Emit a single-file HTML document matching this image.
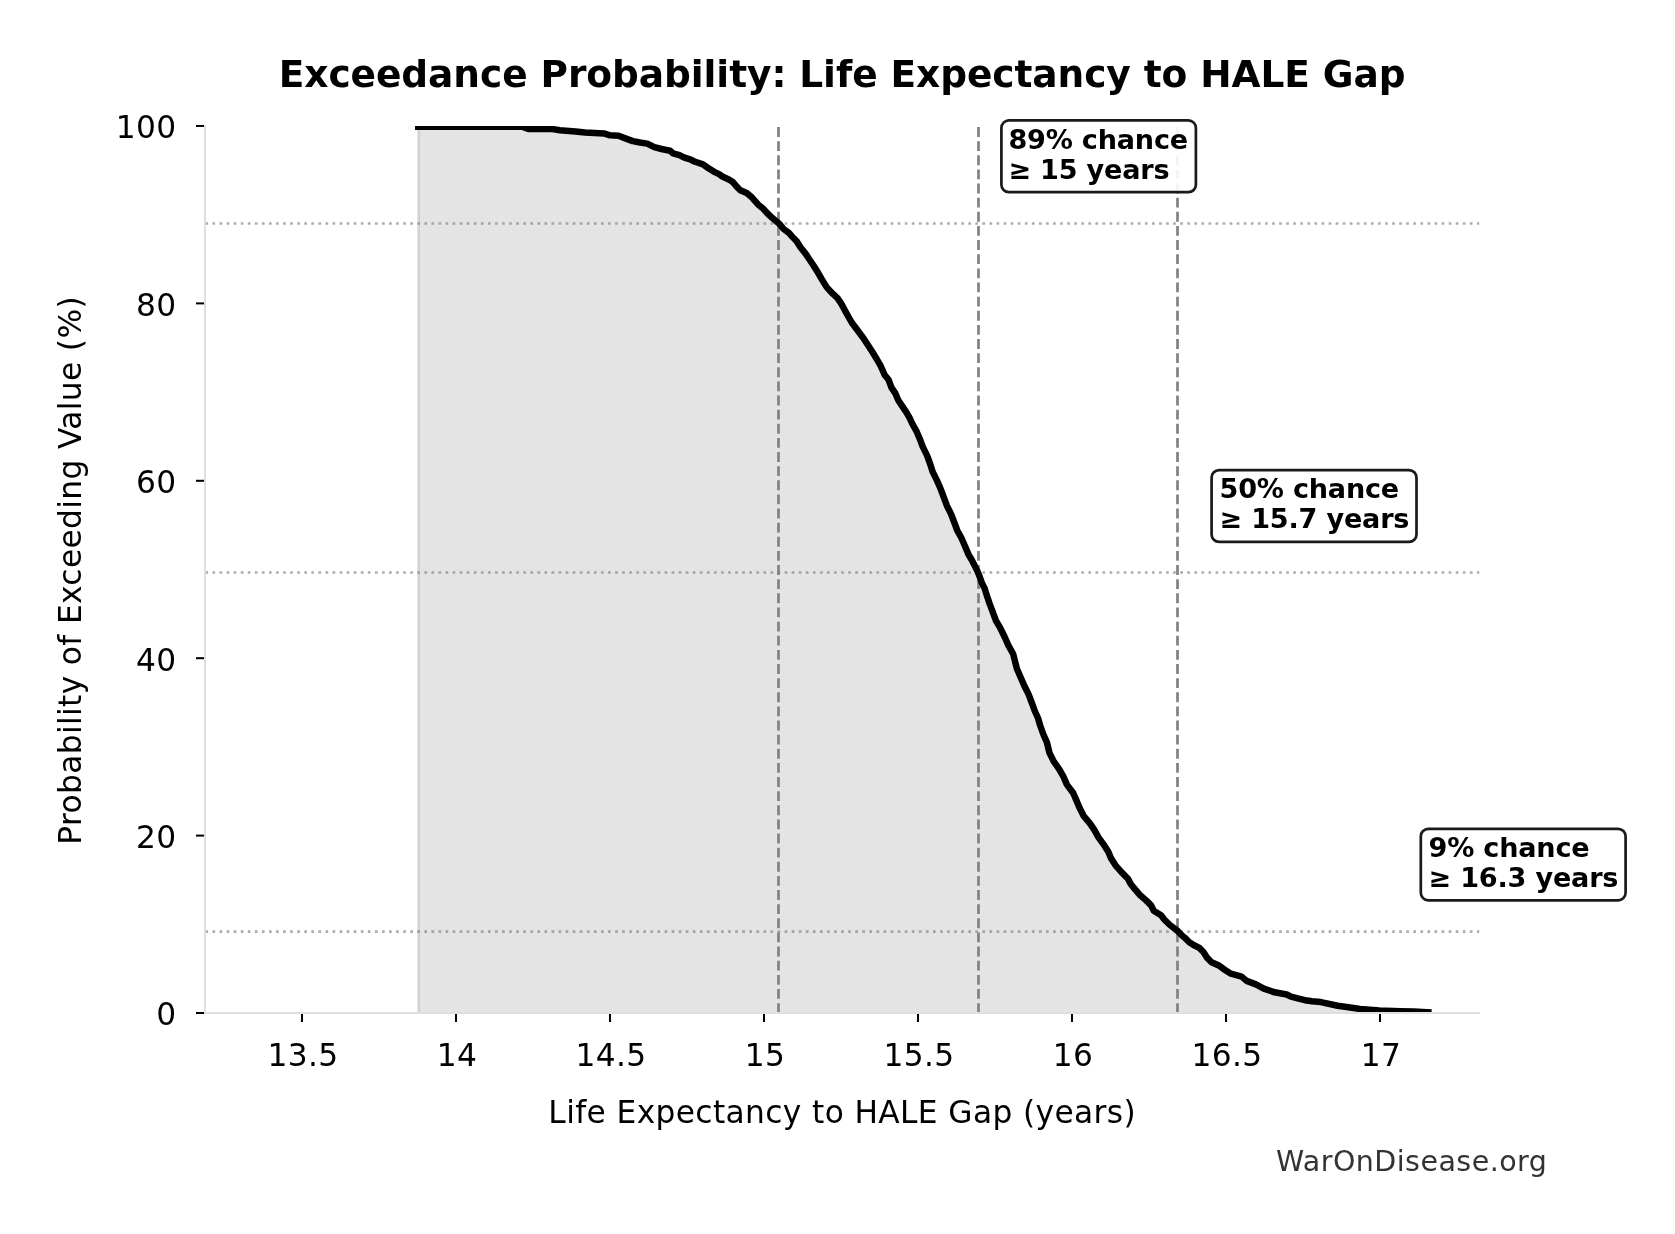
<!DOCTYPE html>
<html><head><meta charset="utf-8"><title>Exceedance Probability: Life Expectancy to HALE Gap</title>
<style>html,body{margin:0;padding:0;background:#fff;width:1675px;height:1234px;overflow:hidden}svg{display:block;will-change:transform}</style>
</head><body>
<svg width="1675" height="1234" viewBox="0 0 1675 1234">
<defs><clipPath id="ax"><rect x="205" y="126" width="1274.5" height="886.6"/></clipPath></defs>
<rect x="0" y="0" width="1675" height="1234" fill="#ffffff"/>
<g clip-path="url(#ax)"><polygon points="418.3,126.7 522,126.7 529,129.1 552.6,129.1 560,130.2 575.5,131.5 585,132.5 604,133.4 610,135.3 618.5,135.8 624.7,138.1 632.8,141.1 640,142.5 647.2,143.6 654.3,147.2 661.5,149 670.1,150.8 673,153.3 679.4,155.1 684.4,157.6 690.2,159.4 694.4,161.5 703,164.4 708.1,168 713.8,171.6 719.5,174.4 722.4,176.6 728.8,179.4 733.1,182.3 736.7,186.6 740.3,190.2 746.7,193 751.8,197.3 757.8,204.2 763.6,209.1 768,214 773.3,218.8 779.2,223.7 783.6,229 788.9,232.9 793.3,237.8 796.7,241.2 800.6,247.5 805.4,253.4 809.3,259.2 813.2,265 818.1,272.8 822,279.6 826.8,287.4 832.7,293.7 837.5,298.1 841.4,303.9 847.3,314.7 851.7,322.5 857.5,330.3 863.3,338 867.7,344.8 872.1,351.6 876.4,358.5 880.8,366.2 884.7,375 888.6,379.8 891.5,387.6 895.4,393.4 898.3,400.2 902.2,406.1 906.1,411.9 909.5,417.7 912.1,423.4 916.3,430.8 919.5,438.2 922.7,446.6 926.9,455.1 930,463.5 932.7,471.9 936.9,480.4 940.6,488.8 943.7,497.2 946.9,505.7 951.1,514.1 954.3,522.5 957.5,531 961.1,537.3 964.5,545 968.6,554.6 971.5,559.5 974.5,565.3 977.4,571.1 979.8,577 982.2,583.8 984.7,588.6 987,596 989.5,603.4 992.7,611.9 995.8,620.3 1000.6,628.7 1004.8,637.2 1008.5,645.6 1013.2,654 1015.3,662.5 1016.9,668.8 1020.6,677.2 1024.3,685.7 1028.5,694.1 1031.7,702.5 1034.8,711 1038,718 1040,725 1043.2,734 1046.9,742.4 1049.5,752.9 1053.7,761.4 1059,768.8 1063.7,777.2 1066.9,784.6 1073.2,793 1076.4,800.4 1079.5,807.8 1083.8,816.2 1090.1,823.6 1094.3,829.9 1098.5,837.3 1103.9,844.8 1108.4,851.9 1111,858.2 1115.5,865.3 1121.7,872.4 1128,878.7 1130.7,884 1135.1,889.4 1139.6,894.7 1145.8,900.1 1151.1,905.4 1153.8,910.8 1161,915.2 1164.5,919.7 1169.9,925 1177,930.4 1182.3,935.7 1185,937.9 1189.3,942.2 1193.6,945 1199.3,947.9 1203.6,952.2 1207.2,957.9 1211.5,962.2 1219.4,965.8 1225.1,970.1 1230.9,973.7 1241.6,976.6 1246.6,980.9 1255.9,984.4 1263.8,988.7 1274.6,992.3 1286.7,994.5 1291,996.6 1299.6,998.8 1305,1000.2 1312,1001.3 1320.9,1002.1 1337.6,1005.7 1350.2,1007.5 1360.2,1009 1379.4,1010.4 1400.3,1011.2 1413.7,1011.6 1428.3,1012.4 1428.3,1013 417,1013 417,126.7" fill="#e4e4e4" stroke="none"/>
<line x1="419.2" y1="126.7" x2="419.2" y2="1013.0" stroke="#cbcbcb" stroke-width="1.3"/>
<line x1="205.4" y1="223.5" x2="1479.5" y2="223.5" stroke="#808080" stroke-opacity="0.65" stroke-width="2.666" stroke-dasharray="2.666 4.398"/>
<line x1="205.4" y1="572.5" x2="1479.5" y2="572.5" stroke="#808080" stroke-opacity="0.65" stroke-width="2.666" stroke-dasharray="2.666 4.398"/>
<line x1="205.4" y1="931.7" x2="1479.5" y2="931.7" stroke="#808080" stroke-opacity="0.65" stroke-width="2.666" stroke-dasharray="2.666 4.398"/>
<line x1="778.5" y1="1013" x2="778.5" y2="126" stroke="#818181" stroke-width="2.7" stroke-dasharray="9.864 4.266"/>
<line x1="978.5" y1="1013" x2="978.5" y2="126" stroke="#818181" stroke-width="2.7" stroke-dasharray="9.864 4.266"/>
<line x1="1177.5" y1="1013" x2="1177.5" y2="126" stroke="#818181" stroke-width="2.7" stroke-dasharray="9.864 4.266"/>
<path d="M418.3 126.7 L522 126.7 L529 129.1 L552.6 129.1 L560 130.2 L575.5 131.5 L585 132.5 L604 133.4 L610 135.3 L618.5 135.8 L624.7 138.1 L632.8 141.1 L640 142.5 L647.2 143.6 L654.3 147.2 L661.5 149 L670.1 150.8 L673 153.3 L679.4 155.1 L684.4 157.6 L690.2 159.4 L694.4 161.5 L703 164.4 L708.1 168 L713.8 171.6 L719.5 174.4 L722.4 176.6 L728.8 179.4 L733.1 182.3 L736.7 186.6 L740.3 190.2 L746.7 193 L751.8 197.3 L757.8 204.2 L763.6 209.1 L768 214 L773.3 218.8 L779.2 223.7 L783.6 229 L788.9 232.9 L793.3 237.8 L796.7 241.2 L800.6 247.5 L805.4 253.4 L809.3 259.2 L813.2 265 L818.1 272.8 L822 279.6 L826.8 287.4 L832.7 293.7 L837.5 298.1 L841.4 303.9 L847.3 314.7 L851.7 322.5 L857.5 330.3 L863.3 338 L867.7 344.8 L872.1 351.6 L876.4 358.5 L880.8 366.2 L884.7 375 L888.6 379.8 L891.5 387.6 L895.4 393.4 L898.3 400.2 L902.2 406.1 L906.1 411.9 L909.5 417.7 L912.1 423.4 L916.3 430.8 L919.5 438.2 L922.7 446.6 L926.9 455.1 L930 463.5 L932.7 471.9 L936.9 480.4 L940.6 488.8 L943.7 497.2 L946.9 505.7 L951.1 514.1 L954.3 522.5 L957.5 531 L961.1 537.3 L964.5 545 L968.6 554.6 L971.5 559.5 L974.5 565.3 L977.4 571.1 L979.8 577 L982.2 583.8 L984.7 588.6 L987 596 L989.5 603.4 L992.7 611.9 L995.8 620.3 L1000.6 628.7 L1004.8 637.2 L1008.5 645.6 L1013.2 654 L1015.3 662.5 L1016.9 668.8 L1020.6 677.2 L1024.3 685.7 L1028.5 694.1 L1031.7 702.5 L1034.8 711 L1038 718 L1040 725 L1043.2 734 L1046.9 742.4 L1049.5 752.9 L1053.7 761.4 L1059 768.8 L1063.7 777.2 L1066.9 784.6 L1073.2 793 L1076.4 800.4 L1079.5 807.8 L1083.8 816.2 L1090.1 823.6 L1094.3 829.9 L1098.5 837.3 L1103.9 844.8 L1108.4 851.9 L1111 858.2 L1115.5 865.3 L1121.7 872.4 L1128 878.7 L1130.7 884 L1135.1 889.4 L1139.6 894.7 L1145.8 900.1 L1151.1 905.4 L1153.8 910.8 L1161 915.2 L1164.5 919.7 L1169.9 925 L1177 930.4 L1182.3 935.7 L1185 937.9 L1189.3 942.2 L1193.6 945 L1199.3 947.9 L1203.6 952.2 L1207.2 957.9 L1211.5 962.2 L1219.4 965.8 L1225.1 970.1 L1230.9 973.7 L1241.6 976.6 L1246.6 980.9 L1255.9 984.4 L1263.8 988.7 L1274.6 992.3 L1286.7 994.5 L1291 996.6 L1299.6 998.8 L1305 1000.2 L1312 1001.3 L1320.9 1002.1 L1337.6 1005.7 L1350.2 1007.5 L1360.2 1009 L1379.4 1010.4 L1400.3 1011.2 L1413.7 1011.6 L1428.3 1012.4" fill="none" stroke="#000" stroke-width="6.5" stroke-linejoin="round" stroke-linecap="square"/></g>
<line x1="205" y1="125" x2="205" y2="1014" stroke="#dfdfdf" stroke-width="2"/>
<line x1="204.1" y1="1013" x2="1479.9" y2="1013" stroke="#dfdfdf" stroke-width="2"/>
<line x1="196" y1="1013" x2="204" y2="1013" stroke="#000" stroke-width="2"/>
<text x="176.55" y="1025.4" text-anchor="end" style="font-family:'DejaVu Sans','Liberation Sans',sans-serif;font-size:31.25px;letter-spacing:0.35px">0</text>
<line x1="196" y1="835.6" x2="204" y2="835.6" stroke="#000" stroke-width="2"/>
<text x="176.55" y="848" text-anchor="end" style="font-family:'DejaVu Sans','Liberation Sans',sans-serif;font-size:31.25px;letter-spacing:0.35px">20</text>
<line x1="196" y1="658.2" x2="204" y2="658.2" stroke="#000" stroke-width="2"/>
<text x="176.55" y="670.6" text-anchor="end" style="font-family:'DejaVu Sans','Liberation Sans',sans-serif;font-size:31.25px;letter-spacing:0.35px">40</text>
<line x1="196" y1="480.8" x2="204" y2="480.8" stroke="#000" stroke-width="2"/>
<text x="176.55" y="493.2" text-anchor="end" style="font-family:'DejaVu Sans','Liberation Sans',sans-serif;font-size:31.25px;letter-spacing:0.35px">60</text>
<line x1="196" y1="303.4" x2="204" y2="303.4" stroke="#000" stroke-width="2"/>
<text x="176.55" y="315.8" text-anchor="end" style="font-family:'DejaVu Sans','Liberation Sans',sans-serif;font-size:31.25px;letter-spacing:0.35px">80</text>
<line x1="196" y1="125.95" x2="204" y2="125.95" stroke="#000" stroke-width="2"/>
<text x="176.55" y="138.35" text-anchor="end" style="font-family:'DejaVu Sans','Liberation Sans',sans-serif;font-size:31.25px;letter-spacing:0.35px">100</text>
<line x1="302" y1="1014" x2="302" y2="1022" stroke="#000" stroke-width="2"/>
<text x="303.07" y="1066.4" text-anchor="middle" style="font-family:'DejaVu Sans','Liberation Sans',sans-serif;font-size:31.25px;letter-spacing:0.35px">13.5</text>
<line x1="456" y1="1014" x2="456" y2="1022" stroke="#000" stroke-width="2"/>
<text x="457.07" y="1066.4" text-anchor="middle" style="font-family:'DejaVu Sans','Liberation Sans',sans-serif;font-size:31.25px;letter-spacing:0.35px">14</text>
<line x1="610" y1="1014" x2="610" y2="1022" stroke="#000" stroke-width="2"/>
<text x="611.07" y="1066.4" text-anchor="middle" style="font-family:'DejaVu Sans','Liberation Sans',sans-serif;font-size:31.25px;letter-spacing:0.35px">14.5</text>
<line x1="764" y1="1014" x2="764" y2="1022" stroke="#000" stroke-width="2"/>
<text x="765.07" y="1066.4" text-anchor="middle" style="font-family:'DejaVu Sans','Liberation Sans',sans-serif;font-size:31.25px;letter-spacing:0.35px">15</text>
<line x1="918" y1="1014" x2="918" y2="1022" stroke="#000" stroke-width="2"/>
<text x="919.07" y="1066.4" text-anchor="middle" style="font-family:'DejaVu Sans','Liberation Sans',sans-serif;font-size:31.25px;letter-spacing:0.35px">15.5</text>
<line x1="1072" y1="1014" x2="1072" y2="1022" stroke="#000" stroke-width="2"/>
<text x="1073.08" y="1066.4" text-anchor="middle" style="font-family:'DejaVu Sans','Liberation Sans',sans-serif;font-size:31.25px;letter-spacing:0.35px">16</text>
<line x1="1226" y1="1014" x2="1226" y2="1022" stroke="#000" stroke-width="2"/>
<text x="1227.08" y="1066.4" text-anchor="middle" style="font-family:'DejaVu Sans','Liberation Sans',sans-serif;font-size:31.25px;letter-spacing:0.35px">16.5</text>
<line x1="1380" y1="1014" x2="1380" y2="1022" stroke="#000" stroke-width="2"/>
<text x="1381.08" y="1066.4" text-anchor="middle" style="font-family:'DejaVu Sans','Liberation Sans',sans-serif;font-size:31.25px;letter-spacing:0.35px">17</text>
<text x="842.2" y="87" text-anchor="middle" style="font-family:'DejaVu Sans','Liberation Sans',sans-serif;font-size:37.5px;font-weight:bold;letter-spacing:-0.07px">Exceedance Probability: Life Expectancy to HALE Gap</text>
<text x="842.19" y="1122.8" text-anchor="middle" style="font-family:'DejaVu Sans','Liberation Sans',sans-serif;font-size:31.25px;letter-spacing:0.38px">Life Expectancy to HALE Gap (years)</text>
<text transform="translate(80.9 570.32) rotate(-90)" x="0" y="0" text-anchor="middle" style="font-family:'DejaVu Sans','Liberation Sans',sans-serif;font-size:31.25px;letter-spacing:0.36px">Probability of Exceeding Value (%)</text>
<rect x="1001.4" y="120.4" width="194.5" height="71.8" rx="7.5" ry="7.5" fill="#ffffff" fill-opacity="0.9" stroke="#1a1a1a" stroke-width="2.7"/>
<text x="1008.4" y="148.9" style="font-family:'DejaVu Sans','Liberation Sans',sans-serif;font-size:27.08px;font-weight:bold;letter-spacing:-0.2px">89% chance</text>
<text x="1008.4" y="179.1" style="font-family:'DejaVu Sans','Liberation Sans',sans-serif;font-size:27.08px;font-weight:bold;letter-spacing:-0.2px">≥ 15 years</text>
<rect x="1211.6" y="470.1" width="204.9" height="71.8" rx="7.5" ry="7.5" fill="#ffffff" fill-opacity="0.9" stroke="#1a1a1a" stroke-width="2.7"/>
<text x="1219.5" y="497.9" style="font-family:'DejaVu Sans','Liberation Sans',sans-serif;font-size:27.08px;font-weight:bold;letter-spacing:-0.2px">50% chance</text>
<text x="1219.5" y="528.3" style="font-family:'DejaVu Sans','Liberation Sans',sans-serif;font-size:27.08px;font-weight:bold;letter-spacing:-0.2px">≥ 15.7 years</text>
<rect x="1420.8" y="828.8" width="204.8" height="71.5" rx="7.5" ry="7.5" fill="#ffffff" fill-opacity="0.9" stroke="#1a1a1a" stroke-width="2.7"/>
<text x="1428.5" y="856.8" style="font-family:'DejaVu Sans','Liberation Sans',sans-serif;font-size:27.08px;font-weight:bold;letter-spacing:-0.2px">9% chance</text>
<text x="1428.5" y="887.3" style="font-family:'DejaVu Sans','Liberation Sans',sans-serif;font-size:27.08px;font-weight:bold;letter-spacing:-0.2px">≥ 16.3 years</text>
<text x="1276" y="1170.8" style="font-family:'DejaVu Sans','Liberation Sans',sans-serif;font-size:28.5px;letter-spacing:0.46px;fill:#333333">WarOnDisease.org</text>
</svg>
</body></html>
